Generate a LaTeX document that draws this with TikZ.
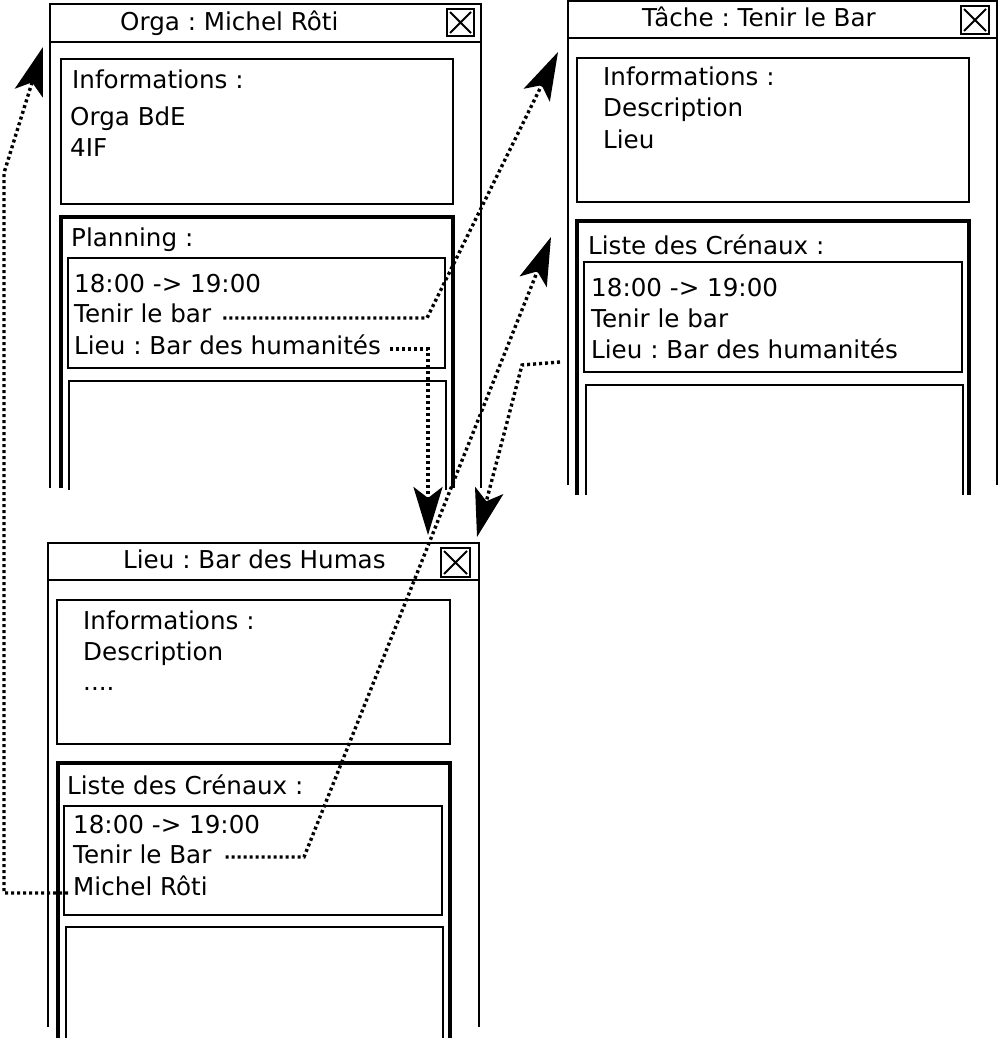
\documentclass[tikz,border=0pt]{standalone}
\usepackage{fontspec}
\setmainfont{DejaVu Sans}
\frenchspacing
\usetikzlibrary{arrows.meta}
\tikzset{
  frame/.style={line width=2.4pt},
  infobox/.style={draw,line width=2.8pt},
  listbox/.style={line width=3.8pt},
  itembox/.style={draw,line width=2.2pt},
  emptybox/.style={line width=2.4pt},
  closebox/.style={draw,line width=2.2pt},
  txt/.style={anchor=base west,inner sep=0pt,font=\fontsize{24.6pt}{31pt}\selectfont},
  conn/.style={line width=3.4pt,dash pattern=on 3pt off 3pt,
    -{Stealth[length=48pt,width=29pt,inset=11pt]}},
}
\begin{document}
\begin{tikzpicture}[x=1pt,y=-1pt]
\useasboundingbox (0,0) rectangle (1000,1038);
\fill[white] (0,0) rectangle (1000,1038);

% ---------- Window 1 : Orga ----------
\draw[frame] (50,488) -- (50,4) -- (481,4) -- (481,488);
\draw[frame] (50,42) -- (481,42);
\draw[closebox] (447,9) rectangle (474,36);
\draw[line width=1.8pt] (450,12) -- (471,33) (471,12) -- (450,33);
\node[txt] (o0) at (120,31) {Orga : Michel Rôti};
\draw[infobox] (61,59) rectangle (453,204);
\node[txt] (o1) at (72,89) {Informations :};
\node[txt] (o2) at (70,126) {Orga BdE};
\node[txt] (o2b) at (70,157) {4IF};
\draw[listbox] (61,488) -- (61,217) -- (453,217) -- (453,488);
\node[txt] (o3) at (71,246) {Planning :};
\draw[itembox] (68,258) rectangle (445,368);
\node[txt] (o4) at (74,292) {18:00 -> 19:00};
\node[txt] (o5) at (74,322) {Tenir le bar};
\node[txt] (o6) at (74,354) {Lieu : Bar des humanités};
\draw[emptybox] (69,490) -- (69,381) -- (446,381) -- (446,490);

% ---------- Window 3 : Tache ----------
\draw[frame] (568,485) -- (568,1) -- (997,1) -- (997,485);
\draw[frame] (568,38) -- (997,38);
\draw[closebox] (961,6) rectangle (989,34);
\draw[line width=1.8pt] (964,9) -- (986,31) (986,9) -- (964,31);
\node[txt] (t0) at (642,27) {Tâche : Tenir le Bar};
\draw[infobox] (577,58) rectangle (969,202);
\node[txt] (t1) at (603,86) {Informations :};
\node[txt] (t2) at (603,117) {Description};
\node[txt] (t3) at (603,148) {Lieu};
\draw[listbox] (577,495) -- (577,221) -- (969,221) -- (969,495);
\node[txt] (t4) at (588,254) {Liste des Crénaux :};
\draw[itembox] (584,262) rectangle (962,372);
\node[txt] (t5) at (591,296) {18:00 -> 19:00};
\node[txt] (t6) at (591,327) {Tenir le bar};
\node[txt] (t7) at (591,358) {Lieu : Bar des humanités};
\draw[emptybox] (586,495) -- (586,385) -- (963,385) -- (963,495);

% ---------- Window 2 : Lieu ----------
\draw[frame] (48,1027) -- (48,543) -- (479,543) -- (479,1027);
\draw[frame] (48,580) -- (479,580);
\draw[closebox] (441,548) rectangle (470,577);
\draw[line width=1.8pt] (444,551) -- (467,574) (467,551) -- (444,574);
\node[txt] (l0) at (123,568) {Lieu : Bar des Humas};
\draw[infobox] (57,600) rectangle (450,744);
\node[txt] (l1) at (83,629) {Informations :};
\node[txt] (l2) at (83,660) {Description};
\node[txt] (l3) at (83,690) {....};
\draw[listbox] (58,1038) -- (58,763) -- (450,763) -- (450,1038);
\node[txt] (l4) at (67,794) {Liste des Crénaux :};
\draw[itembox] (64,806) rectangle (442,915);
\node[txt] (l5) at (73,833) {18:00 -> 19:00};
\node[txt] (l6) at (73,863) {Tenir le Bar};
\node[txt] (l7) at (73,895) {Michel Rôti};
\draw[emptybox] (66,1038) -- (66,927) -- (443,927) -- (443,1038);

% ---------- connectors ----------
\coordinate (b1) at (427,318);
\coordinate (a1) at (558,52);
\coordinate (b2) at (428,349);
\coordinate (a2) at (428,535);
\coordinate (b3) at (304,857);
\coordinate (a3) at (551,237);
\coordinate (s4) at (560,362);
\coordinate (b4) at (522,365);
\coordinate (a4) at (477,537);
\coordinate (b5) at (4,893);
\coordinate (c5) at (4,173);
\coordinate (a5) at (43,47);

\draw[conn] ([xshift=12pt,yshift=4pt]o5.base east) coordinate (s1) -- (s1 -| b1) -- (a1);
\draw[conn] ([xshift=9pt,yshift=5pt]o6.base east) coordinate (s2) -- (s2 -| b2) -- (a2);
\draw[conn] ([xshift=14pt,yshift=6pt]l6.base east) coordinate (s3) -- (s3 -| b3) -- (a3);
\draw[conn] (s4) -- (b4) -- (a4);
\draw[conn] ([xshift=-5pt,yshift=2pt]l7.base west) coordinate (s5) -- (s5 -| b5) -- (c5) -- (a5);
\end{tikzpicture}
\end{document}
